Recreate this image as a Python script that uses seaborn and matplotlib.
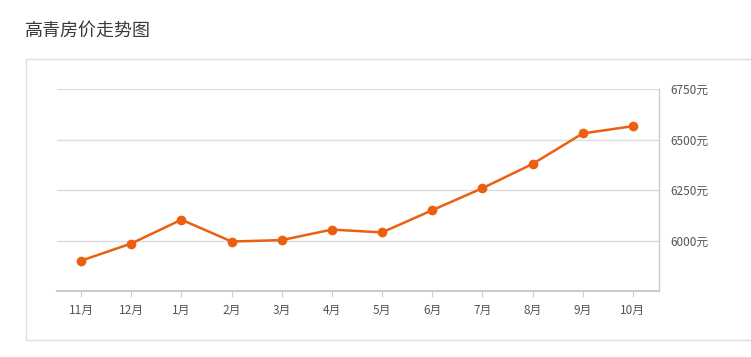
import matplotlib
matplotlib.use("Agg")
import matplotlib.pyplot as plt
from matplotlib.patches import Rectangle
import seaborn as sns
import pandas as pd

months = ["11月", "12月", "1月", "2月", "3月", "4月", "5月", "6月", "7月", "8月", "9月", "10月"]
prices = [5900, 5985, 6103, 5995, 6002, 6054, 6040, 6150, 6259, 6379, 6530, 6566]
y_ticks = [6000, 6250, 6500, 6750]
y_tick_labels = ["6000元", "6250元", "6500元", "6750元"]
title = "高青房价走势图"

sns.set_theme(style="white")
plt.rcParams["font.family"] = ["Noto Sans CJK SC", "DejaVu Sans"]

df = pd.DataFrame({"month": months, "price": prices, "idx": range(len(months))})

W, H = 751, 357
fig = plt.figure(figsize=(W / 100, H / 100), dpi=100)
ax = fig.add_axes([57 / W, 1 - 291 / H, (659 - 57) / W, (291 - 89) / H])

line_color = "#EA6010"
sns.lineplot(data=df, x="idx", y="price", ax=ax, color=line_color, linewidth=1.8,
             marker="o", markersize=7, markeredgewidth=0, markerfacecolor=line_color)

ax.set_xlim(-0.48, len(months) - 1 + 0.52)
ax.set_ylim(5750, 6750)
ax.set_xticks(range(len(months)))
ax.set_xticklabels(months)
ax.set_yticks(y_ticks)
ax.set_yticklabels(y_tick_labels)
ax.yaxis.tick_right()
ax.set_xlabel("")
ax.set_ylabel("")
ax.grid(axis="y", color="#dcdcdc", linewidth=1)
ax.grid(axis="x", visible=False)
for s in ["left", "top"]:
    ax.spines[s].set_visible(False)
ax.spines["bottom"].set_color("#cccccc")
ax.spines["bottom"].set_linewidth(1.5)
ax.spines["right"].set_color("#cccccc")
ax.spines["right"].set_linewidth(1)
ax.tick_params(axis="x", colors="#555555", labelsize=8.5, length=4, width=0.8,
               bottom=True, direction="out", pad=5)
ax.tick_params(axis="x", color="#cccccc")
ax.tick_params(axis="y", colors="#555555", labelsize=8.5, length=0, pad=8)
for lbl in ax.get_xticklabels() + ax.get_yticklabels():
    lbl.set_color("#555555")

fig.text(25 / W, 1 - 31 / H, title, fontsize=13, color="#3a3a3a", va="center", ha="left")
fig.patches.append(Rectangle((25.5 / W, 1 - 340 / H), (760 - 25) / W, (340 - 59) / H,
                             transform=fig.transFigure, facecolor="none",
                             edgecolor="#dddddd", linewidth=1))

fig.savefig("out.png", dpi=100)
